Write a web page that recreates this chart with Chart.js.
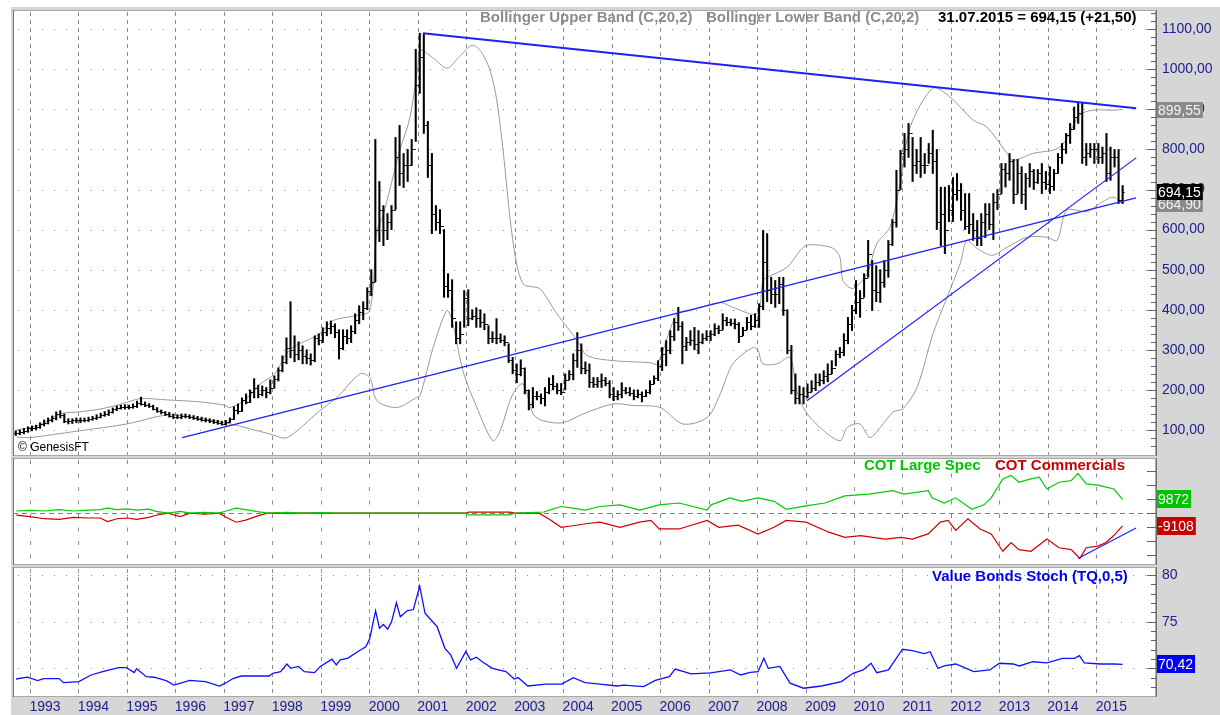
<!DOCTYPE html>
<html>
<head>
<meta charset="utf-8">
<script src="https://cdn.jsdelivr.net/npm/chart.js@4.4.1/dist/chart.umd.min.js"></script>
<style>
  body { margin: 0; background: #fff; }
  #wrap { position: relative; width: 1220px; height: 715px; background: #fff; overflow: hidden; }
  #frame { position: absolute; left: 11px; top: 7px; right: 0; bottom: 0; background: #d6d6d6; }
  canvas { position: absolute; left: 0; }
  .lbl { position: absolute; font: bold 15px "Liberation Sans", Arial, sans-serif; line-height: 16px; white-space: nowrap; }
</style>
</head>
<body>
<div id="wrap">
  <div id="frame"></div>
  <canvas id="priceChart" style="top:0" width="1220" height="457"></canvas>
  <canvas id="cotChart" style="top:457px" width="1220" height="109"></canvas>
  <canvas id="stochChart" style="top:566px" width="1220" height="149"></canvas>
  <div class="lbl" style="left:480px;top:9px;color:#8c8c8c">Bollinger Upper Band (C,20,2)</div>
  <div class="lbl" style="left:706px;top:9px;color:#8c8c8c">Bollinger Lower Band (C,20,2)</div>
  <div class="lbl" style="left:938px;top:9px;color:#000">31.07.2015 = 694,15 (+21,50)</div>
  <div class="lbl" style="left:864px;top:457px;color:#00c800">COT Large Spec</div>
  <div class="lbl" style="left:995px;top:457px;color:#cc0000">COT Commercials</div>
  <div class="lbl" style="left:932px;top:568px;color:#0000f0">Value Bonds Stoch (TQ,0,5)</div>
  <div class="lbl" style="left:18px;top:439px;color:#000;font-weight:normal;font-size:12px">© GenesisFT</div>
</div>
<script>
const fontFam = '"Liberation Sans", Arial, Helvetica, sans-serif';
const axisColor = '#202090';
const gridColor = '#8c8c8c';
const bandColor = '#9a9a9a';
const trendColor = '#2020ff';

const xMin = 1992.65;
const xMax = 2016.23;
const yearTicks = [1993, 1994, 1995, 1996, 1997, 1998, 1999, 2000, 2001, 2002, 2003, 2004,
                   2005, 2006, 2007, 2008, 2009, 2010, 2011, 2012, 2013, 2014, 2015];

// monthly bars, first one is Sep 1992, last one Jul 2015
const firstYear = 1992;
const firstMonth = 9;
const highs = [
  98, 100, 104, 108,
  110, 112, 118, 125, 130, 135, 145, 148, 140, 128, 128, 130,
  130, 130, 132, 134, 138, 142, 146, 150, 155, 160, 162, 163,
  162, 165, 172, 182, 170, 166, 162, 156, 150, 146, 144, 140,
  138, 140, 140, 138, 136, 134, 132, 130, 128, 126, 124, 122,
  124, 130, 158, 165, 180, 190, 200, 228, 212, 210, 206, 225,
  235, 255, 285, 330, 420, 335, 320, 310, 300, 290, 335, 340,
  355, 370, 372, 365, 350, 350, 350, 360, 390, 410, 420, 455,
  500, 825, 720, 660, 640, 660, 830, 860, 790, 800, 825, 1050,
  1090, 1090, 870, 790, 660, 650, 600, 490, 475, 370, 370, 448,
  450, 400, 405, 400, 390, 360, 345, 378, 340, 335, 315, 281,
  265, 275, 255, 200, 206, 196, 190, 206, 230, 236, 216, 216,
  240, 248, 290, 343, 315, 270, 265, 231, 231, 240, 231, 223,
  206, 198, 218, 206, 206, 200, 200, 195, 200, 223, 235, 273,
  306, 323, 348, 378, 406, 370, 331, 348, 356, 348, 340, 348,
  348, 365, 360, 390, 381, 377, 377, 368, 356, 381, 386, 390,
  415, 598, 590, 481, 473, 481, 481, 400, 311, 240, 210, 206,
  215, 223, 240, 240, 248, 265, 273, 298, 306, 340, 381, 411,
  473, 448, 490, 573, 523, 510, 500, 523, 573, 625, 748, 798,
  840, 865, 830, 800, 830, 790, 815, 848, 800, 706, 706, 710,
  730, 740, 715, 690, 690, 640, 623, 640, 665, 665, 690, 700,
  765, 765, 790, 775, 775, 757, 740, 765, 750, 750, 765, 745,
  757, 750, 790, 815, 840, 865, 906, 915, 915, 815, 815, 815,
  815, 806, 840, 806, 800, 800, 710
];
const lows = [
  86, 88, 90, 94,
  98, 100, 104, 110, 115, 120, 125, 130, 118, 115, 116, 118,
  118, 120, 121, 124, 126, 130, 134, 136, 142, 148, 152, 152,
  152, 154, 156, 162, 158, 156, 150, 144, 140, 136, 132, 128,
  128, 128, 130, 128, 126, 124, 122, 120, 118, 116, 114, 112,
  112, 118, 126, 140, 146, 165, 168, 180, 180, 185, 180, 190,
  205, 222, 245, 265, 280, 270, 275, 265, 265, 262, 270, 312,
  318, 335, 340, 330, 277, 300, 315, 318, 340, 365, 375, 400,
  435, 470, 570, 560, 575, 600, 650, 710, 705, 720, 760, 820,
  940, 840, 730, 590, 598, 590, 431, 431, 356, 315, 315, 356,
  360, 375, 356, 356, 350, 315, 318, 315, 318, 310, 268, 240,
  218, 235, 190, 150, 155, 175, 165, 160, 190, 200, 190, 188,
  200, 225, 225, 256, 240, 240, 206, 206, 206, 206, 210, 180,
  173, 175, 180, 190, 185, 175, 180, 170, 183, 190, 215, 223,
  248, 260, 290, 323, 348, 265, 298, 311, 300, 290, 315, 323,
  323, 335, 340, 350, 360, 360, 352, 318, 335, 350, 350, 356,
  356, 400, 420, 415, 406, 415, 386, 290, 190, 165, 165, 165,
  180, 195, 198, 210, 215, 220, 240, 260, 280, 285, 315, 348,
  390, 381, 431, 481, 398, 420, 418, 456, 481, 560, 606, 700,
  756, 780, 720, 740, 730, 740, 765, 740, 600, 560, 540, 620,
  620, 673, 623, 600, 590, 573, 560, 560, 580, 600, 575, 650,
  690, 706, 723, 665, 690, 665, 650, 706, 700, 715, 690, 700,
  690, 698, 740, 765, 790, 815, 850, 865, 765, 760, 780, 765,
  765, 765, 720, 723, 756, 665, 665
];
const closes = [
  92, 94, 98, 104,
  106, 108, 115, 118, 125, 130, 140, 138, 122, 122, 124, 125,
  124, 126, 127, 130, 133, 138, 141, 146, 152, 156, 158, 158,
  158, 160, 168, 166, 162, 160, 152, 148, 144, 140, 135, 132,
  132, 136, 134, 132, 130, 128, 126, 124, 122, 120, 118, 116,
  120, 128, 150, 148, 175, 170, 195, 205, 190, 200, 195, 205,
  228, 250, 270, 305, 300, 290, 300, 285, 280, 275, 330, 325,
  345, 355, 360, 345, 305, 335, 330, 348, 375, 395, 405, 448,
  470, 600, 650, 600, 620, 650, 780, 740, 760, 760, 800, 960,
  1030, 860, 760, 640, 620, 610, 460, 450, 380, 330, 340, 430,
  380, 385, 380, 370, 365, 330, 330, 330, 325, 320, 275, 250,
  240, 255, 200, 165, 185, 185, 180, 195, 215, 210, 200, 195,
  225, 240, 275, 300, 255, 250, 220, 215, 222, 225, 218, 190,
  185, 190, 200, 195, 192, 185, 190, 185, 195, 215, 230, 260,
  290, 300, 335, 370, 360, 310, 320, 325, 315, 320, 330, 335,
  340, 355, 350, 375, 370, 368, 365, 335, 350, 370, 360, 375,
  410, 520, 450, 440, 440, 465, 400, 300, 200, 180, 190, 185,
  195, 205, 220, 225, 235, 240, 255, 290, 295, 325, 365, 400,
  420, 430, 480, 540, 450, 445, 470, 500, 565, 620, 700, 790,
  800, 840, 760, 770, 760, 760, 790, 770, 620, 640, 600, 650,
  690, 700, 650, 610, 615, 600, 580, 620, 640, 615, 670, 690,
  750, 740, 770, 690, 740, 690, 730, 745, 720, 740, 720, 715,
  710, 740, 780, 800, 835, 850, 880, 890, 780, 790, 800, 800,
  780, 790, 740, 780, 780, 673, 694.15
];

// Bollinger bands (C,20,2)
const bbUpperT = [1992.73, 1993.20, 1993.62, 1994.00, 1994.44, 1994.90, 1995.27, 1995.83, 1996.51, 1997.00,
  1997.13, 1997.44, 1997.75, 1998.05, 1998.36, 1998.98, 1999.25, 1999.71, 2000.01, 2000.16,
  2000.28, 2000.63, 2000.84, 2001.00, 2001.05, 2001.30, 2001.60, 2001.85, 2002.12, 2002.30,
  2002.49, 2002.63, 2002.76, 2002.96, 2003.17, 2003.52, 2003.87, 2004.29, 2004.49, 2005.03,
  2005.79, 2005.94, 2006.35, 2006.62, 2007.24, 2007.50, 2008.00, 2008.12, 2008.21, 2008.62,
  2008.89, 2009.03, 2009.30, 2009.57, 2009.71, 2009.77, 2009.98, 2010.27, 2010.47, 2010.74,
  2010.95, 2011.16, 2011.63, 2011.98, 2012.46, 2012.74, 2013.16, 2013.28, 2013.69, 2014.25,
  2014.66, 2014.93, 2015.34, 2015.54];
const bbUpperV = [100, 112, 140, 145, 152, 165, 178, 175, 170, 162,
  156, 175, 215, 240, 300, 340, 373, 385, 398, 598,
  633, 798, 880, 1006, 1048, 1030, 1003, 1030, 1060, 1045,
  998, 923, 798, 575, 465, 452, 390, 323, 286, 273,
  268, 265, 390, 398, 418, 406, 390, 473, 481, 506,
  548, 561, 561, 553, 531, 473, 453, 490, 565, 606,
  715, 856, 953, 931, 873, 856, 790, 773, 790, 806,
  886, 898, 898, 899.55];
const bbLowerT = [1992.73, 1993.00, 1994.03, 1995.00, 1995.74, 1996.09, 1997.13, 1997.95, 1998.30, 1998.98,
  1999.33, 1999.81, 2000.01, 2000.16, 2000.57, 2000.98, 2001.05, 2001.32, 2001.60, 2001.71,
  2001.93, 2002.22, 2002.55, 2002.70, 2002.96, 2003.17, 2003.38, 2003.58, 2003.99, 2004.41,
  2005.03, 2005.44, 2006.00, 2006.47, 2006.97, 2007.24, 2007.50, 2007.92, 2008.02, 2008.12,
  2008.41, 2008.68, 2008.82, 2008.99, 2009.30, 2009.71, 2009.86, 2010.12, 2010.33, 2010.54,
  2010.81, 2011.01, 2011.30, 2011.63, 2011.92, 2012.19, 2012.33, 2012.54, 2012.85, 2013.16,
  2013.57, 2013.98, 2014.19, 2014.39, 2014.81, 2015.07, 2015.34, 2015.54];
const bbLowerV = [82, 81, 98, 115, 136, 136, 115, 90, 81, 148,
  181, 240, 231, 173, 156, 181, 186, 306, 398, 373,
  248, 156, 73, 98, 190, 215, 140, 123, 118, 140,
  165, 161, 156, 115, 131, 190, 265, 306, 298, 265,
  265, 281, 198, 148, 106, 73, 106, 115, 81, 106,
  145, 153, 206, 340, 431, 515, 573, 553, 536, 556,
  581, 581, 573, 648, 645, 665, 681, 664.9];

// hand drawn trend lines (date, price)
const trendTopT = [2001.11, 2015.82];
const trendTopV = [1090, 903];
const trendLongT = [1996.14, 2015.82];
const trendLongV = [81, 679];
const trendSteepT = [2009.03, 2015.82];
const trendSteepV = [173, 779];

// COT positions
const specT = [1992.72, 1993.00, 1993.30, 1993.60, 1993.90, 1994.20, 1994.45, 1994.60, 1994.80, 1995.00,
  1995.20, 1995.45, 1995.60, 1995.85, 1996.10, 1996.30, 1996.60, 1996.90, 1997.05, 1997.25,
  1997.45, 1997.70, 1997.90, 1998.30, 1998.60, 1999.00, 1999.40, 2002.00, 2002.05, 2002.90,
  2003.00, 2003.60, 2003.80, 2003.96, 2004.20, 2004.45, 2004.76, 2005.17, 2005.58, 2005.98,
  2006.39, 2006.97, 2007.05, 2007.44, 2007.69, 2008.02, 2008.35, 2008.60, 2009.01, 2009.40,
  2009.81, 2010.31, 2010.80, 2011.03, 2011.28, 2011.53, 2011.61, 2011.86, 2012.10, 2012.43,
  2012.68, 2012.83, 2013.07, 2013.24, 2013.40, 2013.65, 2013.82, 2013.98, 2014.23, 2014.48,
  2014.62, 2014.79, 2015.03, 2015.20, 2015.36, 2015.54];
const specV = [1500, 2000, 1500, 2500, 1500, 2200, 2500, 3500, 2500, 3000,
  2200, 2800, 1200, 0, 1200, 0, 600, 0, 1500, 3500,
  2500, 1000, 0, 500, 0, 300, 0, 0, -1200, -1200,
  0, 800, 3000, 4700, 3500, 2200, 4700, 5900, 2200, 5900,
  7200, 2200, 5900, 10900, 8400, 10900, 8400, 2700, 5200, 7200,
  12300, 13600, 16000, 13600, 14800, 16000, 10900, 7200, 10900, 2700,
  5900, 10900, 24400, 26900, 22000, 24400, 25700, 17200, 22000, 23200,
  28300, 20800, 20000, 18500, 17200, 9872];
const commT = [1992.72, 1993.00, 1993.30, 1993.60, 1993.90, 1994.20, 1994.45, 1994.60, 1994.80, 1995.00,
  1995.20, 1995.45, 1995.60, 1995.85, 1996.10, 1996.30, 1996.60, 1996.90, 1997.05, 1997.25,
  1997.45, 1997.70, 1997.90, 2002.00, 2002.05, 2002.90, 2003.00, 2003.50, 2003.70, 2003.96,
  2004.20, 2004.50, 2004.76, 2005.17, 2005.58, 2005.81, 2005.98, 2006.39, 2006.97, 2007.21,
  2007.61, 2008.02, 2008.35, 2008.60, 2009.01, 2009.48, 2009.81, 2010.14, 2010.64, 2010.97,
  2011.20, 2011.53, 2011.78, 2011.94, 2012.10, 2012.35, 2012.60, 2012.83, 2013.07, 2013.24,
  2013.40, 2013.65, 2013.98, 2014.23, 2014.48, 2014.66, 2014.79, 2015.03, 2015.20, 2015.36,
  2015.54];
const commV = [-1500, -2500, -4000, -4500, -3000, -3500, -3500, -6000, -4000, -3500,
  -4500, -3000, -1500, 0, -2500, 0, -800, 0, -3000, -6500,
  -5000, -2000, 0, 0, 700, 700, 0, 0, -4000, -10100,
  -9000, -7400, -6400, -10100, -6400, -5200, -11300, -11300, -5200, -10100,
  -8600, -15000, -10100, -5200, -6400, -13600, -17300, -16000, -18500, -17300,
  -18500, -14800, -6400, -5200, -12300, -4000, -11300, -14800, -27200, -21000,
  -26000, -27200, -18500, -24700, -26000, -32300, -24700, -23500, -21000, -16000,
  -9108];
const cotTrendT = [2014.62, 2015.82];
const cotTrendV = [-32300, -10600];

// Value Bonds Stoch (TQ,0,5)
const stochT = [1992.71, 1992.95, 1993.16, 1993.28, 1993.60, 1993.69, 1994.01, 1994.26, 1994.50, 1994.83,
  1994.99, 1995.15, 1995.20, 1995.40, 1995.56, 1995.81, 1995.97, 1996.30, 1996.62, 1996.91,
  1997.03, 1997.19, 1997.36, 1997.93, 1998.01, 1998.17, 1998.30, 1998.38, 1998.54, 1998.66,
  1998.87, 1998.99, 1999.23, 1999.32, 1999.40, 1999.56, 1999.80, 1999.93, 2000.01, 2000.13,
  2000.21, 2000.29, 2000.38, 2000.46, 2000.56, 2000.64, 2000.78, 2000.91, 2001.04, 2001.15,
  2001.27, 2001.40, 2001.56, 2001.68, 2001.80, 2001.99, 2002.09, 2002.21, 2002.33, 2002.54,
  2002.82, 2002.99, 2003.07, 2003.27, 2003.64, 2003.97, 2004.21, 2004.45, 2004.76, 2005.11,
  2005.25, 2005.66, 2005.90, 2006.19, 2006.31, 2006.64, 2007.04, 2007.45, 2007.66, 2007.86,
  2008.02, 2008.14, 2008.23, 2008.47, 2008.68, 2008.96, 2009.33, 2009.74, 2009.98, 2010.19,
  2010.35, 2010.47, 2010.71, 2011.00, 2011.20, 2011.45, 2011.57, 2011.73, 2011.86, 2012.10,
  2012.47, 2012.80, 2013.00, 2013.28, 2013.41, 2013.69, 2013.98, 2014.30, 2014.55, 2014.65,
  2014.75, 2015.08, 2015.36, 2015.54];
const stochV = [68.85, 69.04, 68.67, 68.9, 68.9, 68.46, 68.57, 69.28, 69.64, 70.07,
  70.07, 69.53, 69.96, 69.1, 69.04, 68.67, 68.2, 68.7, 68.57, 68.1,
  68.4, 68.9, 69.17, 69.17, 69.46, 69.64, 70.46, 70.0, 70.2, 69.64,
  69.53, 70.2, 70.97, 70.35, 70.9, 71.1, 71.9, 72.3, 73.2, 76.17,
  74.3, 74.7, 74.2, 75.0, 77.03, 75.53, 76.17, 76.3, 78.82, 75.9,
  75.2, 74.46, 72.14, 71.43, 70.0, 71.78, 70.9, 71.18, 70.7, 70.0,
  69.64, 68.85, 69.0, 68.1, 68.3, 68.3, 69.0, 68.46, 68.3, 68.1,
  68.2, 68.03, 68.7, 69.1, 69.92, 69.4, 69.5, 69.82, 69.28, 69.57,
  69.64, 71.07, 70.0, 70.2, 68.4, 67.86, 68.1, 68.57, 69.46, 69.82,
  70.54, 69.53, 69.82, 72.04, 71.9, 71.57, 71.78, 70.0, 70.25, 70.46,
  69.64, 69.82, 70.54, 70.46, 70.25, 70.7, 70.57, 71.07, 71.07, 71.36,
  70.57, 70.46, 70.46, 70.42];

const priceTicks = [100, 200, 300, 400, 500, 600, 700, 800, 900, 1000, 1100];
const priceMinor = [];
for (let v = 40; v <= 1140; v += 20) priceMinor.push(v);
const cotTicks = [-30000, -20000, -10000, 0, 10000, 20000, 30000];
const stochTicks = [70, 75, 80];
const stochMinor = [67, 68, 69, 71, 72, 73, 74, 76, 77, 78, 79, 80];

const zip = (ts, vs) => ts.map((t, i) => ({ x: t, y: vs[i] }));
const barTimes = closes.map((_, i) => {
    const m = firstMonth - 1 + i;
    return firstYear + Math.floor(m / 12) + ((m % 12) + 0.5) / 12;
});
const comma = d => v => v.toFixed(d).replace('.', ',');
const noPad = s => { s.paddingTop = 0; s.paddingBottom = 0; s.paddingLeft = 0; s.paddingRight = 0; };

const panelPlugin = {
    id: 'panel',
    beforeDraw(chart, args, o) {
        const { ctx, chartArea: a } = chart;
        const xs = chart.scales.x, ys = chart.scales.y;
        ctx.save();
        ctx.fillStyle = '#ffffff';
        ctx.fillRect(a.left, a.top, a.right - a.left, a.bottom - a.top);
        ctx.strokeStyle = gridColor;
        ctx.lineWidth = 1;
        ctx.setLineDash(o.vDash);
        yearTicks.forEach(yr => {
            const px = Math.round(xs.getPixelForValue(yr)) + 0.5;
            ctx.beginPath();
            ctx.moveTo(px, a.top + 2);
            ctx.lineTo(px, a.bottom);
            ctx.stroke();
        });
        ctx.setLineDash([]);
        ctx.fillStyle = gridColor;
        (o.hDots || []).forEach(v => {
            const py = Math.round(ys.getPixelForValue(v));
            for (let q = 1992.75; q < xMax; q += 0.25) {
                const px = Math.round(xs.getPixelForValue(q));
                if (px > a.left + 1 && px < a.right - 2) ctx.fillRect(px, py, 1, 1);
            }
        });
        if (o.zeroLine) {
            const py = Math.round(ys.getPixelForValue(0)) + 0.5;
            ctx.setLineDash([5, 4]);
            ctx.strokeStyle = '#808080';
            ctx.beginPath();
            ctx.moveTo(a.left, py);
            ctx.lineTo(a.right, py);
            ctx.stroke();
        }
        ctx.restore();
    },
    afterDraw(chart, args, o) {
        const { ctx, chartArea: a } = chart;
        const ys = chart.scales.y;
        ctx.save();
        ctx.strokeStyle = '#a8a8a8';
        ctx.lineWidth = 1;
        ctx.strokeRect(a.left + 0.5, a.top + 0.5, a.right - a.left - 1, a.bottom - a.top - 1);
        ctx.strokeStyle = '#707070';
        ctx.beginPath();
        ctx.moveTo(a.right + 0.5, a.top);
        ctx.lineTo(a.right + 0.5, a.bottom);
        ctx.moveTo(a.left + 0.5, a.top);
        ctx.lineTo(a.left + 0.5, a.bottom);
        ctx.stroke();
        ctx.strokeStyle = '#606060';
        ctx.beginPath();
        (o.major || []).forEach(v => {
            const py = Math.round(ys.getPixelForValue(v)) + 0.5;
            ctx.moveTo(a.right - 9, py);
            ctx.lineTo(a.right, py);
        });
        (o.minor || []).forEach(v => {
            const py = Math.round(ys.getPixelForValue(v)) + 0.5;
            if (py < a.top + 2 || py > a.bottom - 2) return;
            ctx.moveTo(a.right - 5, py);
            ctx.lineTo(a.right, py);
        });
        ctx.stroke();
        ctx.font = '14px ' + fontFam;
        ctx.textBaseline = 'middle';
        (o.boxes || []).forEach(b => {
            const w = ctx.measureText(b.text).width + 3;
            const py = Math.round(ys.getPixelForValue(b.value));
            ctx.fillStyle = b.bg;
            ctx.fillRect(a.right + 1, py - b.h / 2, w, b.h);
            ctx.fillStyle = b.fg;
            ctx.fillText(b.text, a.right + 2, py + 1);
        });
        ctx.restore();
    }
};

const ohlcPlugin = {
    id: 'ohlc',
    afterDatasetsDraw(chart) {
        const { ctx } = chart;
        const xs = chart.scales.x, ys = chart.scales.y;
        ctx.save();
        ctx.beginPath();
        ctx.rect(chart.chartArea.left, chart.chartArea.top, chart.chartArea.right - chart.chartArea.left, chart.chartArea.bottom - chart.chartArea.top);
        ctx.clip();
        ctx.strokeStyle = '#000';
        ctx.lineWidth = 1;
        ctx.beginPath();
        barTimes.forEach((t, i) => {
            const px = xs.getPixelForValue(t);
            const open = i > 0 ? closes[i - 1] : closes[i];
            const po = Math.round(ys.getPixelForValue(open)) + 0.5;
            const pc = Math.round(ys.getPixelForValue(closes[i])) + 0.5;
            ctx.moveTo(px - 2, po);
            ctx.lineTo(px, po);
            ctx.moveTo(px, pc);
            ctx.lineTo(px + 2, pc);
        });
        ctx.stroke();
        ctx.restore();
    }
};

const hiddenX = { type: 'linear', min: xMin, max: xMax, offset: false, display: false };
const rightY = (min, max, ticks, fmt, showLabels) => ({
    position: 'right',
    min, max,
    afterFit: s => { s.width = 64; noPad(s); },
    afterBuildTicks: s => { s.ticks = ticks.map(v => ({ value: v })); },
    grid: { display: false, drawTicks: false },
    border: { display: false },
    ticks: {
        display: showLabels,
        autoSkip: false,
        padding: 6,
        color: axisColor,
        font: { family: fontFam, size: 14 },
        callback: fmt
    }
});
const baseOpts = {
    responsive: false,
    animation: false,
    devicePixelRatio: 1,
    events: []
};
const lineSet = (data, color, width, order, tension) => ({
    type: 'line', data, borderColor: color, borderWidth: width,
    pointRadius: 0, tension: tension || 0, order, fill: false
});

new Chart(document.getElementById('priceChart'), {
    type: 'bar',
    data: {
        datasets: [
            lineSet(zip(bbUpperT, bbUpperV), bandColor, 1, 4, 0.3),
            lineSet(zip(bbLowerT, bbLowerV), bandColor, 1, 4, 0.3),
            {
                type: 'bar',
                data: barTimes.map((t, i) => ({ x: t, y: [lows[i], highs[i]] })),
                backgroundColor: '#000',
                barThickness: 1.4,
                order: 3
            },
            lineSet(zip(trendTopT, trendTopV), trendColor, 2, 1),
            lineSet(zip(trendLongT, trendLongV), trendColor, 1.4, 1),
            lineSet(zip(trendSteepT, trendSteepV), trendColor, 1.2, 1)
        ]
    },
    options: {
        ...baseOpts,
        layout: { padding: { left: 13, top: 10, right: 0, bottom: 1 } },
        plugins: {
            legend: { display: false },
            tooltip: { enabled: false },
            panel: {
                vDash: [4, 4],
                hDots: priceTicks,
                major: priceTicks,
                minor: priceMinor,
                boxes: [
                    { value: 899.55, text: '899,55', bg: '#8a8a8a', fg: '#f2f2f2', h: 16 },
                    { value: 664.9, text: '664,90', bg: '#8a8a8a', fg: '#f2f2f2', h: 16 },
                    { value: 694.15, text: '694,15', bg: '#000', fg: '#fff', h: 16 }
                ]
            }
        },
        scales: {
            x: hiddenX,
            y: rightY(35, 1148, priceTicks, comma(2), true)
        }
    },
    plugins: [panelPlugin, ohlcPlugin]
});

new Chart(document.getElementById('cotChart'), {
    type: 'line',
    data: {
        datasets: [
            lineSet(zip(commT, commV), '#d00000', 1.2, 3),
            lineSet(zip(specT, specV), '#00cc00', 1.2, 2),
            lineSet(zip(cotTrendT, cotTrendV), trendColor, 1.2, 1)
        ]
    },
    options: {
        ...baseOpts,
        layout: { padding: { left: 13, top: 1, right: 0, bottom: 1 } },
        plugins: {
            legend: { display: false },
            tooltip: { enabled: false },
            panel: {
                vDash: [4, 9.5],
                zeroLine: true,
                major: cotTicks,
                boxes: [
                    { value: 9872, text: '9872', bg: '#00c400', fg: '#fff', h: 18 },
                    { value: -9108, text: '-9108', bg: '#c80000', fg: '#fff', h: 18 }
                ]
            }
        },
        scales: {
            x: hiddenX,
            y: rightY(-37000, 39300, cotTicks, v => '', false)
        }
    },
    plugins: [panelPlugin]
});

new Chart(document.getElementById('stochChart'), {
    type: 'line',
    data: {
        datasets: [
            lineSet(zip(stochT, stochV), '#1010ff', 1.3, 1)
        ]
    },
    options: {
        ...baseOpts,
        layout: { padding: { left: 13, top: 1, right: 0, bottom: 0 } },
        plugins: {
            legend: { display: false },
            tooltip: { enabled: false },
            panel: {
                vDash: [4, 4],
                hDots: stochTicks,
                major: stochTicks,
                minor: stochMinor,
                boxes: [
                    { value: 70.42, text: '70,42', bg: '#0000f0', fg: '#fff', h: 18 }
                ]
            }
        },
        scales: {
            x: {
                type: 'linear', min: xMin, max: xMax, offset: false,
                afterFit: s => { s.height = 18; noPad(s); },
                afterBuildTicks: s => { s.ticks = yearTicks.map(v => ({ value: v })); },
                grid: { display: false, drawTicks: false },
                border: { display: false },
                ticks: {
                    autoSkip: false, maxRotation: 0, labelOffset: 15, padding: 2,
                    color: axisColor, font: { family: fontFam, size: 14 },
                    callback: v => String(v)
                }
            },
            y: rightY(66.92, 80.86, stochTicks, v => String(v), true)
        }
    },
    plugins: [panelPlugin]
});
</script>
</body>
</html>
